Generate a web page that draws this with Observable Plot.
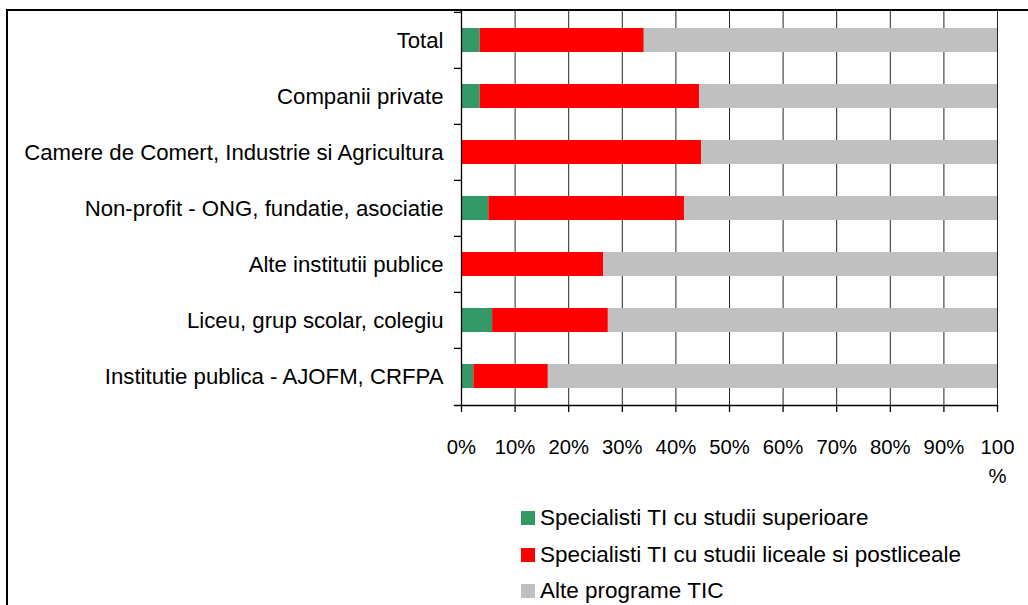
<!DOCTYPE html>
<html>
<head>
<meta charset="utf-8">
<script src="https://cdn.jsdelivr.net/npm/d3@7"></script>
<script src="https://cdn.jsdelivr.net/npm/@observablehq/plot@0.6"></script>
<style>
  html, body { margin: 0; padding: 0; background: #fff; overflow: hidden; width: 1028px; height: 605px; }
  body { position: relative; font-family: "Liberation Sans", Arial, sans-serif; color: #000; }
  #border { position: absolute; left: 6px; top: 9px; width: 1100px; height: 700px; border-left: 2px solid #000; border-top: 2px solid #000; }
  #chart { position: absolute; left: 0; top: 0; }
  #legend { position: absolute; left: 521px; top: 503px; }
  .item { position: relative; height: 36.5px; font-size: 22.5px; line-height: 30px; white-space: nowrap; }
  .sw { position: absolute; left: 0; top: 8px; width: 14px; height: 14px; }
  .lbl { position: absolute; left: 19px; top: 0; }
</style>
</head>
<body>
<div id="border"></div>
<div id="chart"></div>
<div id="legend"></div>
<script>
const categories = [
  "Total",
  "Companii private",
  "Camere de Comert, Industrie si Agricultura",
  "Non-profit - ONG, fundatie, asociatie",
  "Alte institutii publice",
  "Liceu, grup scolar, colegiu",
  "Institutie publica - AJOFM, CRFPA"
];
const seriesNames = [
  "Specialisti TI cu studii superioare",
  "Specialisti TI cu studii liceale si postliceale",
  "Alte programe TIC"
];
const seriesColors = ["#339966", "#FF0000", "#C0C0C0"];
const superioare = [3.5, 3.5, 0, 5.1, 0, 5.8, 2.3];
const liceale    = [30.6, 40.9, 44.8, 36.5, 26.5, 21.6, 13.9];
const alte       = [65.9, 55.6, 55.2, 58.4, 73.5, 72.6, 83.8];
const xTicks = [0, 10, 20, 30, 40, 50, 60, 70, 80, 90, 100];

const seriesValues = [superioare, liceale, alte];
const data = seriesNames.flatMap((s, si) =>
  categories.map((c, ci) => ({category: c, series: s, value: seriesValues[si][ci]}))
);

const W = 1028, H = 490, mTop = 11, mBottom = 85, mLeft = 461, mRight = 31;
const step = (H - mTop - mBottom) / categories.length;

const chart = Plot.plot({
  width: W,
  height: H,
  marginTop: mTop,
  marginBottom: mBottom,
  marginLeft: mLeft,
  marginRight: mRight,
  style: {fontFamily: '"Liberation Sans", Arial, sans-serif', background: "transparent", overflow: "visible", color: "#000"},
  x: {domain: [0, 100], label: null},
  y: {domain: categories, paddingInner: 0.57, paddingOuter: 0.285, label: null},
  color: {domain: seriesNames, range: seriesColors},
  marks: [
    Plot.gridX(xTicks, {stroke: "#000", strokeOpacity: 0.85, strokeWidth: 1}),
    Plot.barX(data, Plot.stackX({x: "value", y: "category", fill: "series", order: null})),
    Plot.ruleX([0], {stroke: "#000", strokeWidth: 1.3}),
    Plot.frame({anchor: "bottom", insetLeft: -7, stroke: "#000", strokeWidth: 1.3}),
    Plot.axisY({tickSize: 7, tickFormat: () => "", dy: -step / 2, stroke: "#000", strokeWidth: 1.3}),
    Plot.axisY({tickSize: 0, tickPadding: 18, fontSize: 22.2, label: null}),
    Plot.axisX(xTicks, {
      tickSize: 7, tickPadding: 21, fontSize: 20.3, lineHeight: 1.43, label: null,
      stroke: "#000", strokeWidth: 1.3,
      tickFormat: d => d === 100 ? "100\n%" : d + "%"
    })
  ]
});
document.getElementById("chart").appendChild(chart);

const legend = document.getElementById("legend");
seriesNames.forEach((s, i) => {
  const item = document.createElement("div");
  item.className = "item";
  const sw = document.createElement("div");
  sw.className = "sw";
  sw.style.background = seriesColors[i];
  const lbl = document.createElement("div");
  lbl.className = "lbl";
  lbl.textContent = s;
  item.appendChild(sw);
  item.appendChild(lbl);
  legend.appendChild(item);
});
</script>
</body>
</html>
